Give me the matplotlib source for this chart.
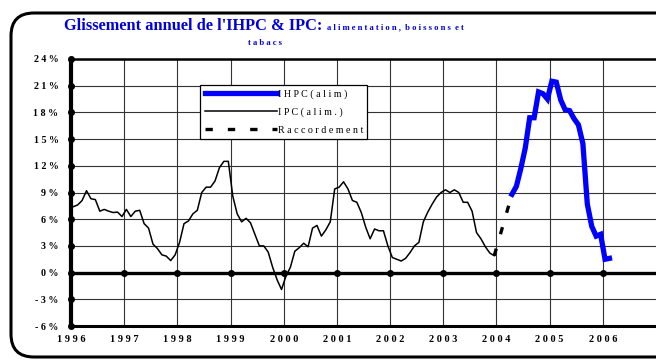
import numpy as np
import matplotlib
matplotlib.use('Agg')
import matplotlib.pyplot as plt
from matplotlib.patches import FancyBboxPatch

# ===== Data =====
# IPC alimentation, monthly Jan 1996 .. Dec 2003 (%)
ipc_alim = [
    7.4, 7.6, 8.1, 9.2, 8.3, 8.2, 6.9, 7.1, 6.9, 6.75, 6.8, 6.3,        # 1996
    7.1, 6.3, 6.9, 7.0, 5.5, 5.0, 3.2, 2.7, 2.0, 1.85, 1.35, 2.0,       # 1997
    3.4, 5.5, 5.8, 6.6, 7.0, 9.0, 9.6, 9.6, 10.3, 11.8, 12.5, 12.5,     # 1998
    8.6, 6.6, 5.7, 6.1, 5.6, 4.3, 3.0, 3.0, 2.3, 0.6, -0.8, -1.9,       # 1999
    -0.4, 0.6, 2.4, 2.8, 3.3, 2.9, 5.0, 5.3, 4.1, 4.8, 5.7, 9.4,        # 2000
    9.6, 10.2, 9.4, 8.1, 7.9, 6.75, 5.1, 3.8, 4.9, 4.7, 4.7, 3.0,       # 2001
    1.7, 1.5, 1.3, 1.6, 2.25, 3.0, 3.4, 5.7, 6.8, 7.7, 8.5, 9.0,        # 2002
    9.3, 9.0, 9.3, 9.0, 7.9, 7.9, 6.9, 4.5, 3.8, 2.9, 2.2, 1.9,         # 2003
]
ipc_start = 0  # month index of first value (Jan 1996)

# IHPC alimentation, monthly Apr 2004 .. Feb 2006 (%)
ihpc_alim = [
    8.8, 9.7, 11.7, 14.0, 17.4, 17.4, 20.3, 20.1, 19.5,
    21.5, 21.4, 19.4, 18.3, 18.2, 17.3, 16.6, 14.5, 7.7, 5.2, 4.1, 4.3,
    1.5, 1.6,
]
ihpc_start = 99  # Apr 2004

# Raccordement (link between the two series)
racc_months = [95, 99]
racc_values = [1.9, 8.8]

years = list(range(1996, 2007))
yticks = [-6, -3, 0, 3, 6, 9, 12, 15, 18, 21, 24]


def month_x(m):
    return 1996 + (np.asarray(m) + 0.5) / 12.0


def spaced(s):
    # letter-spaced text, as in the original Excel chart
    return '  '.join(' '.join(w) for w in s.split(' '))


SERIF = ['Liberation Serif', 'DejaVu Serif']
BLUE = '#0000FF'
TITLE_BLUE = '#0000DD'

fig = plt.figure(figsize=(6.56, 3.6), dpi=100)
ax = fig.add_axes([71 / 656, 34 / 360, 585 / 656, 267 / 360])

# outer rounded frame
frame = FancyBboxPatch((11 / 656, 3 / 360), 700 / 656, 344 / 360,
                       boxstyle='round,pad=0,rounding_size=0.035',
                       transform=fig.transFigure, fill=False, lw=2.2,
                       ec='black', mutation_aspect=656 / 360)
fig.patches.append(frame)

# ===== Series =====
ipc_x = month_x(np.arange(ipc_start, ipc_start + len(ipc_alim)))
ihpc_x = month_x(np.arange(ihpc_start, ihpc_start + len(ihpc_alim)))

ax.plot(ihpc_x, ihpc_alim, color=BLUE, lw=3.8, solid_joinstyle='miter',
        label=spaced('IHPC(alim)'), zorder=5)
ax.plot(ipc_x, ipc_alim, color='black', lw=1.1, label=spaced('IPC(alim.)'), zorder=4)
ax.plot(month_x(racc_months), racc_values, color='black', lw=2.4,
        dashes=(2.2, 4.5), label=spaced('Raccordement'), zorder=4)

# ===== Axes styling =====
ax.set_xlim(1996, 2007)
ax.set_ylim(-6, 24)
ax.set_xticks(years)
ax.set_yticks(yticks)
ax.grid(True, color='#333333', lw=0.8)
ax.set_axisbelow(True)
ax.axhline(0, color='black', lw=2.4, zorder=3)
ax.plot(years[1:], [0] * (len(years) - 1), 'o', color='black', ms=4, zorder=6,
        clip_on=False)
ax.plot([1996] * len(yticks), yticks, 'o', color='black', ms=4, zorder=6,
        clip_on=False)

ax.spines['left'].set_linewidth(3.0)
ax.spines['bottom'].set_linewidth(2.2)
ax.spines['top'].set_linewidth(1.8)
ax.spines['right'].set_visible(False)
ax.tick_params(axis='x', length=0, pad=6.5)
ax.tick_params(axis='y', length=0, pad=9)

ax.set_xticklabels([spaced(str(y)) for y in years], fontfamily=SERIF,
                   fontweight='bold', fontsize=7.5)
ax.set_yticklabels([' '.join(str(v)) + ' %' for v in yticks], fontfamily=SERIF,
                   fontweight='bold', fontsize=7.2)

# ===== Legend =====
leg = ax.legend(loc='upper left', bbox_to_anchor=(200 / 656, 1 - 85 / 360),
                bbox_transform=fig.transFigure, prop={'family': SERIF, 'size': 7.2},
                handlelength=7.2, handletextpad=0.1, labelspacing=0.85,
                borderpad=0.45, borderaxespad=0, fancybox=False,
                framealpha=1, edgecolor='black')
leg.get_frame().set_linewidth(0.9)

# ===== Title =====
fig.text(64 / 656, 1 - 29.5 / 360, "Glissement annuel de l'IHPC & IPC:",
         fontfamily=SERIF, fontweight='bold', fontsize=11.8, color=TITLE_BLUE,
         ha='left', va='baseline')
fig.text(327 / 656, 1 - 29.5 / 360, spaced('alimentation, boissons et'),
         fontfamily=SERIF, fontweight='bold', fontsize=6.2, color=TITLE_BLUE,
         ha='left', va='baseline')
fig.text(265 / 656, 1 - 45 / 360, spaced('tabacs'),
         fontfamily=SERIF, fontweight='bold', fontsize=6.2, color=TITLE_BLUE,
         ha='center', va='baseline')

fig.savefig('out.png', dpi=100, facecolor='white')
